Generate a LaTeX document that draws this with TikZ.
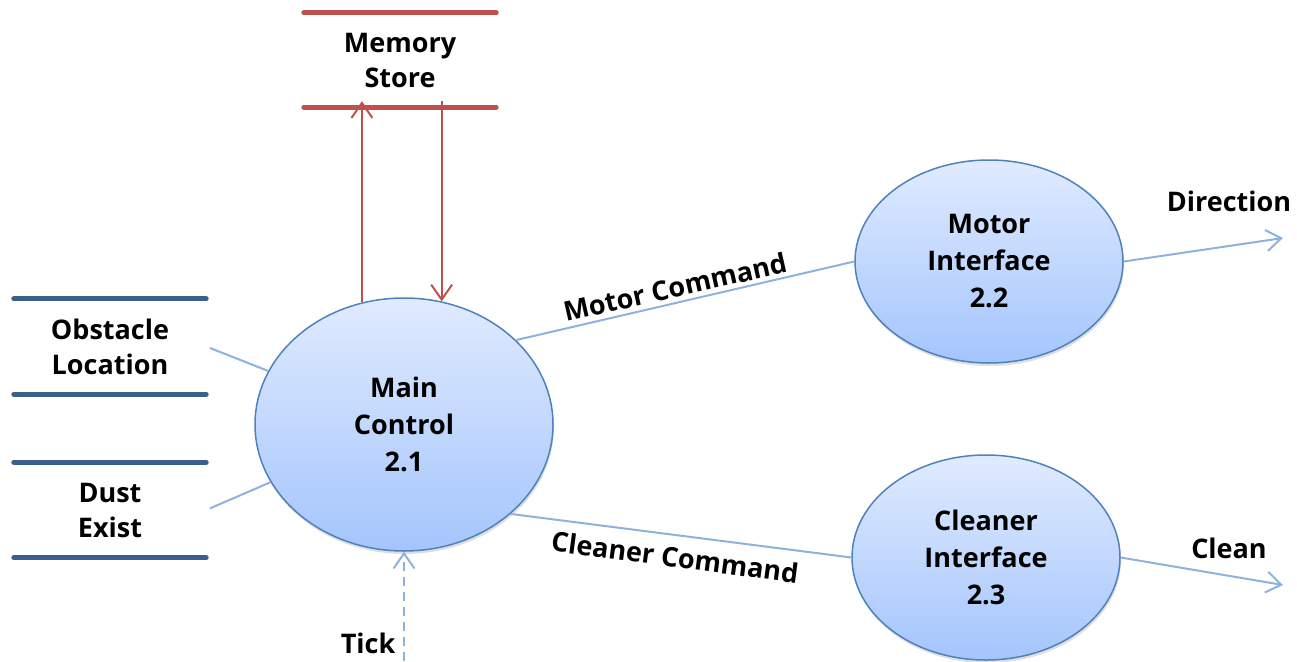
\documentclass[tikz,border=0pt]{standalone}
\usepackage{fontspec}
\setmainfont{Open Sans}
\usetikzlibrary{arrows.meta,shapes.geometric,shadows}

\definecolor{flowblue}{RGB}{142,178,222}
\definecolor{procedge}{RGB}{79,129,189}
\definecolor{proctop}{RGB}{224,235,255}
\definecolor{procbot}{RGB}{164,197,252}
\definecolor{memred}{RGB}{192,80,77}
\definecolor{storeblue}{RGB}{59,94,140}

\tikzset{
  lbl/.style={font=\bfseries\fontsize{27}{35}\selectfont, align=center, inner sep=0pt},
  process/.style={ellipse, draw=procedge, line width=1.5pt,
    top color=proctop, bottom color=procbot,
    drop shadow={opacity=0.25, shadow xshift=1pt, shadow yshift=-3pt},
    lbl, font=\bfseries\fontsize{27}{37}\selectfont, minimum width=#1},
  store/.style={lbl, minimum width=192pt, minimum height=95pt},
  storeline/.style={line width=5pt, line cap=round},
  flow/.style={draw=flowblue, line width=2pt},
  vtip/.tip={Straight Barb[length=15pt,width=21pt,line width=2pt]},
  flowarrow/.style={flow, -vtip},
  redflow/.style={draw=memred, line width=2pt, -vtip},
}

\begin{document}
\begin{tikzpicture}[x=1pt, y=-1pt]
  \useasboundingbox (0,0) rectangle (1297,661);

  % data stores
  \node[store, minimum height=94pt] (ms) at (400,60) {Memory\\Store};
  \node[store] (obs) at (110,346.5) {Obstacle\\Location};
  \node[store] (dust) at (110,510) {Dust\\Exist};
  \draw[storeline, memred] (ms.north west) -- (ms.north east);
  \draw[storeline, memred] (ms.south west) -- (ms.south east);
  \foreach \s in {obs,dust}{
    \draw[storeline, storeblue] (\s.north west) -- (\s.north east);
    \draw[storeline, storeblue] (\s.south west) -- (\s.south east);
  }

  % processes
  \node[process=298pt, minimum height=253pt] (mc) at (404,424.5) {Main\\Control\\2.1};
  \node[process=268pt, minimum height=203pt] (mi) at (989,261.5) {Motor\\Interface\\2.2};
  \node[process=268pt, minimum height=205pt] (ci) at (986,557.5) {Cleaner\\Interface\\2.3};

  % external ends
  \coordinate (dirEnd) at (1283,238);
  \coordinate (cleanEnd) at (1283,585);
  \coordinate (tickEnd) at (404,661);

  % memory access
  \draw[redflow] (mc.109) -- ([yshift=6pt]mc.109 |- ms.south);
  \draw[redflow] ([yshift=6pt]mc.73 |- ms.south) -- (mc.73);

  % inputs
  \draw[flow, shorten <=4pt] (obs.east) -- (mc);
  \draw[flow, shorten <=4pt] (dust.east) -- (mc);
  \draw[flowarrow, dashed, dash pattern=on 9pt off 6pt] (tickEnd) -- (mc.south);

  % commands and outputs
  \draw[flow] (mc.37) -- (mi.180);
  \draw[flow] (mc.-40) -- (ci.180);
  \draw[flowarrow] (mi.east) -- (dirEnd);
  \draw[flowarrow] (ci.east) -- (cleanEnd);

  % flow labels
  \node[lbl, rotate=12.7] (lmc) at (675,287) {Motor Command};
  \node[lbl, rotate=-7.5] (lcc) at (675,557) {Cleaner Command};
  \node[lbl] (ldir) at (1229,201) {Direction};
  \node[lbl] (lcln) at (1229,548) {Clean};
  \node[lbl] (ltick) at (368,643) {Tick};
\end{tikzpicture}
\end{document}
